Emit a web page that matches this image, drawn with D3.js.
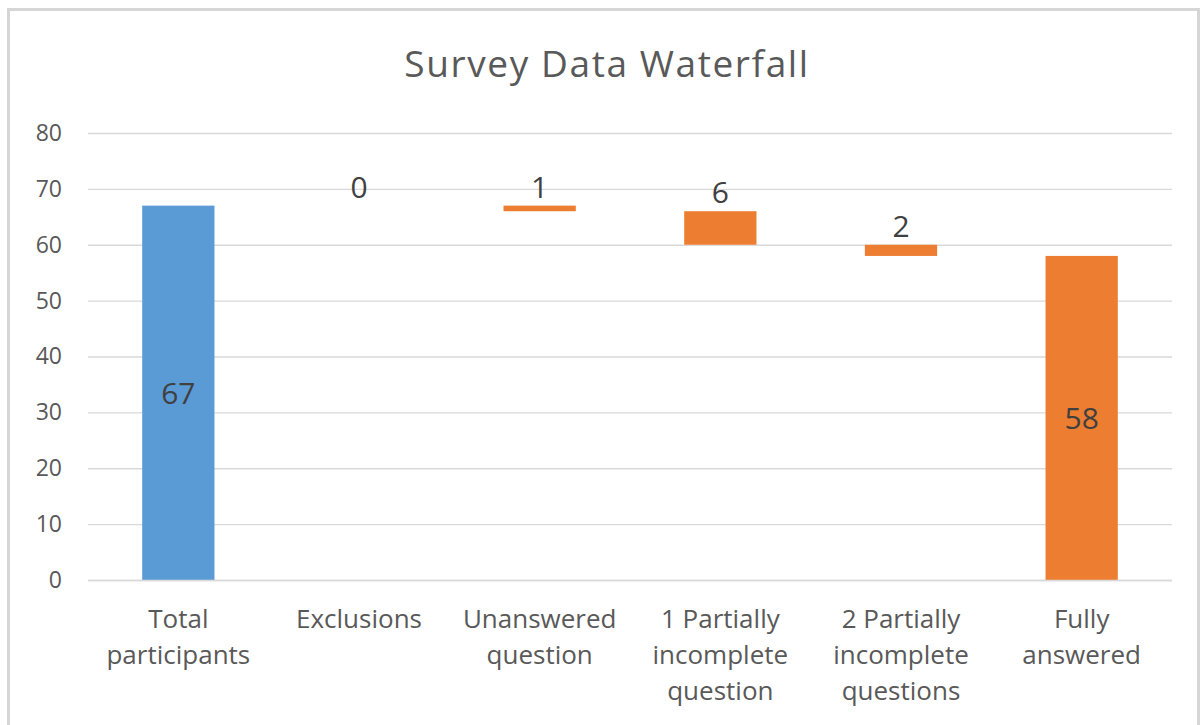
<!DOCTYPE html>
<html>
<head>
<meta charset="utf-8">
<script src="https://cdn.jsdelivr.net/npm/d3@7"></script>
<style>
  html, body { margin: 0; padding: 0; background: #fff; }
  svg { display: block; font-family: "Open Sans", sans-serif; }
</style>
</head>
<body>
<div class="container"></div>
<script>
// categories (line breaks as in the reference)
const categories = [
    'Total\nparticipants',
    'Exclusions',
    'Unanswered\nquestion',
    '1 Partially\nincomplete\nquestion',
    '2 Partially\nincomplete\nquestions',
    'Fully\nanswered'
];
// start total, then drops, then the end total
const values = [67, 0, 1, 6, 2, 58];
const kinds = ['start', 'drop', 'drop', 'drop', 'drop', 'end'];
const yTicks = [0, 10, 20, 30, 40, 50, 60, 70, 80];

const width = 1203;
const height = 725;
const textColor = '#595959';
const kindColor = d3.scaleOrdinal()
    .domain(['start', 'drop', 'end'])
    .range(['#5b9bd5', '#ed7d31', '#ed7d31']);

const svg = d3.select('.container').append('svg')
    .attr('width', width)
    .attr('height', height);

// chart frame
svg.append('rect')
    .attr('x', 8.5).attr('y', 9.5)
    .attr('width', 1190).attr('height', 740)
    .attr('fill', 'none')
    .attr('stroke', '#d6d6d6')
    .attr('stroke-width', 3);

svg.append('text')
    .attr('x', 607).attr('y', 77)
    .attr('text-anchor', 'middle')
    .style('font-size', '37px')
    .style('letter-spacing', '1.6px')
    .attr('fill', textColor)
    .text('Survey Data Waterfall');

const x = d3.scaleBand()
    .domain(categories)
    .range([88, 1172])
    .paddingInner(0.6)
    .paddingOuter(0.3);

const y = d3.scaleLinear()
    .domain([0, 80])
    .range([580, 133]);

// gridlines + y labels
const yAxis = svg.append('g')
    .attr('transform', 'translate(88,0)')
    .call(d3.axisLeft(y).tickValues(yTicks).tickSize(-(1172 - 88)).tickPadding(26));
yAxis.select('.domain').remove();
yAxis.selectAll('.tick line').attr('stroke', '#d9d9d9').attr('stroke-width', 1.3);
yAxis.selectAll('.tick text')
    .attr('fill', textColor)
    .style('font-size', '23px')
    .style('font-family', '"Open Sans", sans-serif');

// running totals for the floating bars
let running = 0;
const bars = values.map((v, i) => {
    let lo, hi;
    if (kinds[i] === 'drop') {
        hi = running;
        lo = running - v;
        running = lo;
    } else {
        lo = 0;
        hi = v;
        running = v;
    }
    return {cat: categories[i], value: v, kind: kinds[i], lo, hi};
});

const barG = svg.append('g');
barG.selectAll('rect')
    .data(bars)
    .enter()
    .append('rect')
    .attr('x', d => x(d.cat))
    .attr('width', x.bandwidth())
    .attr('y', d => y(d.hi))
    .attr('height', d => y(d.lo) - y(d.hi))
    .attr('fill', d => kindColor(d.kind));

// value labels: inside for totals, above for drops
barG.selectAll('.val')
    .data(bars)
    .enter()
    .append('text')
    .attr('class', 'val')
    .attr('x', d => x(d.cat) + x.bandwidth() / 2)
    .attr('y', d => d.kind === 'drop' ? y(d.hi) - 8 : (y(d.lo) + y(d.hi)) / 2 + 11)
    .attr('text-anchor', 'middle')
    .attr('fill', '#404040')
    .style('font-size', '30px')
    .text(d => d.value);

// category labels
const xAxis = svg.append('g')
    .attr('transform', 'translate(0,580)')
    .call(d3.axisBottom(x).tickSize(0).tickFormat(''));
xAxis.select('.domain').attr('stroke', '#d9d9d9').attr('stroke-width', 1.3)
    .attr('d', 'M88,0.5H1172');

xAxis.selectAll('.tick').each(function (d) {
    const t = d3.select(this).append('text')
        .attr('y', 48)
        .attr('text-anchor', 'middle')
        .attr('fill', textColor)
        .style('font-size', '26px')
        .style('font-family', '"Open Sans", sans-serif');
    d.split('\n').forEach((line, k) => {
        t.append('tspan').attr('x', 0).attr('dy', k === 0 ? 0 : 36).text(line);
    });
});
</script>
</body>
</html>
